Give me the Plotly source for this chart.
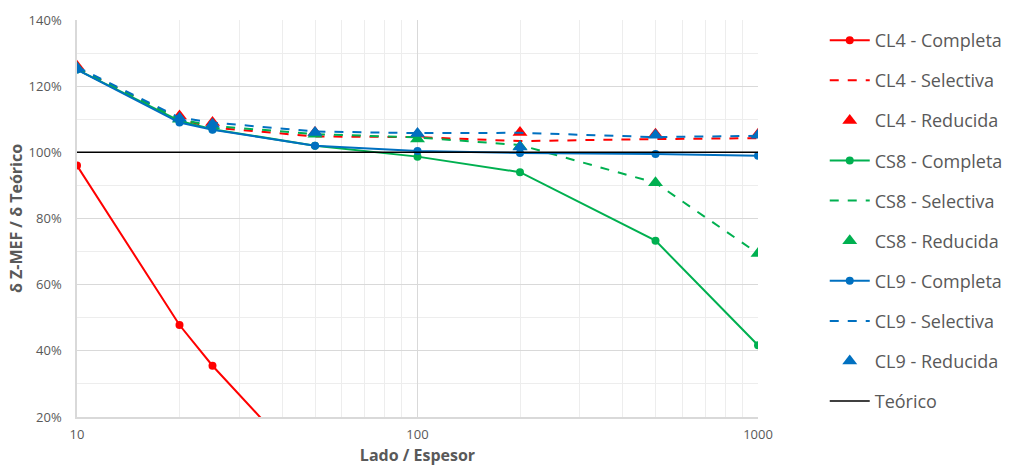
import plotly.graph_objects as go

x_vals = [10, 20, 25, 50, 100, 200, 500, 1000]

cl4_completa = [0.96, 0.478, 0.355, 0.02, 0.005, 0.002, 0.001, 0.0005]
cl4_selectiva = [1.255, 1.10, 1.075, 1.048, 1.046, 1.034, 1.040, 1.043]
cl4_reducida = [1.26, 1.11, 1.09, 1.06, 1.055, 1.06, 1.055, 1.055]

cs8_completa = [1.25, 1.095, 1.07, 1.02, 0.987, 0.94, 0.733, 0.417]
cs8_selectiva = [1.255, 1.10, 1.08, 1.055, 1.045, 1.022, 0.908, 0.694]
cs8_reducida = [1.255, 1.10, 1.08, 1.055, 1.04, 1.018, 0.908, 0.694]

cl9_completa = [1.25, 1.09, 1.068, 1.02, 1.004, 0.998, 0.995, 0.99]
cl9_selectiva = [1.258, 1.105, 1.09, 1.063, 1.058, 1.059, 1.046, 1.05]
cl9_reducida = [1.255, 1.103, 1.085, 1.06, 1.057, 1.016, 1.052, 1.052]

teorico_x = [10, 1000]
teorico_y = [1.0, 1.0]

RED = "#FF0000"
GREEN = "#00B050"
BLUE = "#0070C0"

fig = go.Figure()

def add_group(name, color, comp, sel, red):
    fig.add_trace(go.Scatter(x=x_vals, y=comp, name=f"{name} - Completa", mode="lines+markers",
                             line=dict(color=color, width=2), marker=dict(symbol="circle", size=8, color=color),
                             legendgroup=f"{name}c"))
    fig.add_trace(go.Scatter(x=x_vals, y=sel, name=f"{name} - Selectiva", mode="lines",
                             line=dict(color=color, width=2, dash="dash"),
                             legendgroup=f"{name}s"))
    fig.add_trace(go.Scatter(x=x_vals, y=red, name=f"{name} - Reducida", mode="markers",
                             marker=dict(symbol="triangle-up", size=13, color=color),
                             legendgroup=f"{name}r"))

add_group("CL4", RED, cl4_completa, cl4_selectiva, cl4_reducida)
add_group("CS8", GREEN, cs8_completa, cs8_selectiva, cs8_reducida)
add_group("CL9", BLUE, cl9_completa, cl9_selectiva, cl9_reducida)

fig.add_trace(go.Scatter(x=teorico_x, y=teorico_y, name="Teórico", mode="lines",
                         line=dict(color="black", width=1.5), legendgroup="t"))

FONT = "Open Sans"
GRAY = "#595959"

fig.update_layout(
    width=1009, height=466,
    margin=dict(l=77, r=251, t=20, b=49, autoexpand=False),
    paper_bgcolor="white", plot_bgcolor="white",
    font=dict(family=FONT, color=GRAY, size=13),
    showlegend=True,
    legend=dict(x=1.098, y=0.995, xanchor="left", yanchor="top",
                font=dict(size=18, color=GRAY), tracegroupgap=13.7,
                bgcolor="rgba(0,0,0,0)", itemwidth=40, maxheight=466),
    xaxis=dict(type="log", range=[1, 3], tickvals=[10, 100, 1000], ticktext=["10", "100", "1000"],
               automargin=False,
               showgrid=True, gridcolor="#D9D9D9", gridwidth=1,
               minor=dict(dtick="D1", showgrid=True, gridcolor="#EDEDED", gridwidth=1),
               showline=True, linecolor="#D9D9D9", linewidth=1.5,
               ticks="", zeroline=False, ticklabelstandoff=5,
               tickfont=dict(size=13, color=GRAY),
               title=dict(text="<b>Lado / Espesor</b>", font=dict(size=16, color=GRAY), standoff=15)),
    yaxis=dict(range=[0.2, 1.4], dtick=0.2, tickformat=".0%",
               automargin=False,
               showgrid=True, gridcolor="#D9D9D9", gridwidth=1,
               minor=dict(dtick=0.1, showgrid=True, gridcolor="#EDEDED", gridwidth=1),
               showline=True, linecolor="#D9D9D9", linewidth=1.5,
               ticks="", zeroline=False, ticklabelstandoff=11,
               tickfont=dict(size=13, color=GRAY),
               title=dict(text="<b>δ Z-MEF / δ Teórico</b>", font=dict(size=16, color=GRAY), standoff=2)),
)

fig.write_html("out.html", config={"displayModeBar": False},
               post_script="document.body.style.margin='0px';")
